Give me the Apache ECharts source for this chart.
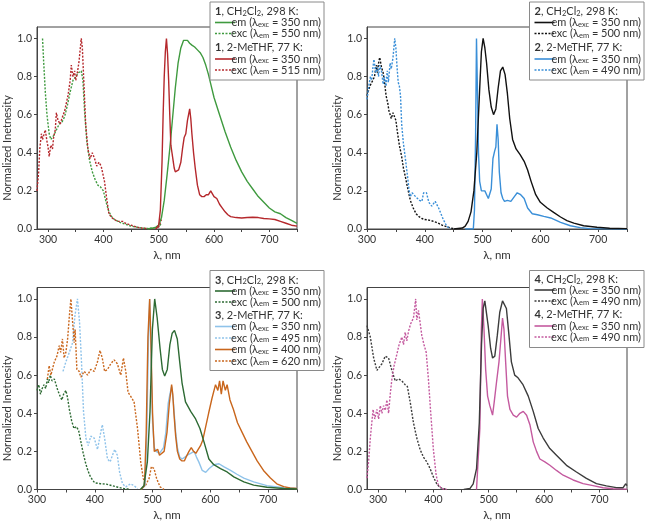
<!DOCTYPE html>
<html><head><meta charset="utf-8">
<script src="https://cdn.jsdelivr.net/npm/echarts@6/dist/echarts.min.js"></script>
<style>html,body{margin:0;padding:0;background:#fff}#c{width:645px;height:522px}</style>
</head><body><div id="c"></div>
<script>
// ---------- Panel 1 ----------
const p1EmRT = [[480,0],[490,0.005],[495,0.01],[500,0.02],[505,0.06],[510,0.15],[515,0.28],[520,0.42],[525,0.58],[530,0.74],[535,0.87],[540,0.95],[545,0.99],[548,1.0],[552,0.99],[556,0.975],[560,0.965],[565,0.955],[570,0.94],[575,0.925],[580,0.9],[585,0.86],[590,0.81],[595,0.75],[600,0.69],[610,0.6],[620,0.51],[630,0.43],[640,0.36],[650,0.3],[660,0.25],[670,0.21],[680,0.17],[690,0.14],[700,0.11],[710,0.09],[720,0.08],[730,0.06],[740,0.045],[750,0.03]];
const p1ExcRT = [[290,1.0],[292,0.88],[295,0.72],[298,0.6],[302,0.5],[305,0.47],[310,0.49],[315,0.52],[320,0.55],[325,0.56],[330,0.59],[335,0.65],[340,0.72],[345,0.78],[350,0.8],[355,0.82],[360,0.83],[363,0.78],[366,0.62],[370,0.46],[375,0.36],[380,0.3],[385,0.26],[390,0.23],[395,0.22],[400,0.2],[405,0.14],[410,0.09],[415,0.065],[420,0.05],[430,0.035],[440,0.025],[450,0.015],[460,0.01],[470,0.005],[480,0.003],[490,0.005],[500,0.012],[505,0.03]];
const p1EmLT = [[495,0],[500,0.02],[503,0.1],[506,0.35],[508,0.6],[510,0.8],[512,0.93],[514,1.0],[516,0.92],[518,0.78],[520,0.6],[522,0.44],[524,0.4],[526,0.36],[528,0.32],[530,0.3],[533,0.29],[536,0.31],[540,0.35],[543,0.42],[546,0.48],[549,0.5],[552,0.57],[554,0.6],[556,0.63],[558,0.58],[560,0.5],[563,0.4],[566,0.32],[570,0.23],[574,0.18],[578,0.17],[582,0.17],[586,0.18],[590,0.18],[594,0.2],[597,0.19],[600,0.17],[605,0.16],[610,0.13],[615,0.11],[620,0.09],[625,0.075],[630,0.065],[640,0.06],[650,0.058],[660,0.06],[670,0.062],[680,0.06],[690,0.055],[700,0.053],[710,0.05],[720,0.04],[730,0.03],[740,0.02],[750,0.015]];
const p1ExcLT = [[280,0.2],[283,0.3],[285,0.42],[288,0.5],[290,0.47],[292,0.49],[295,0.52],[298,0.46],[300,0.43],[302,0.38],[305,0.44],[308,0.42],[310,0.48],[313,0.52],[315,0.61],[318,0.57],[322,0.55],[325,0.58],[328,0.57],[330,0.62],[333,0.66],[336,0.7],[340,0.78],[342,0.86],[345,0.8],[348,0.83],[350,0.78],[353,0.82],[356,0.88],[360,1.0],[362,0.95],[365,0.75],[368,0.55],[372,0.42],[376,0.37],[380,0.4],[384,0.37],[388,0.33],[392,0.35],[396,0.33],[398,0.34],[402,0.25],[406,0.16],[410,0.08],[415,0.06],[420,0.05],[425,0.04],[430,0.04],[435,0.04],[440,0.03],[450,0.02],[460,0.01],[470,0.005],[480,0.002],[490,0.002],[500,0.01],[505,0.05]];
// ---------- Panel 2 ----------
const p2EmRT = [[450,0],[465,0.005],[470,0.015],[475,0.04],[480,0.09],[485,0.2],[490,0.4],[493,0.6],[496,0.8],[498,0.93],[501,1.0],[504,0.95],[507,0.87],[511,0.73],[515,0.64],[519,0.6],[523,0.63],[527,0.74],[531,0.83],[535,0.85],[539,0.81],[543,0.71],[547,0.58],[552,0.47],[558,0.42],[565,0.39],[572,0.355],[578,0.31],[584,0.25],[592,0.18],[600,0.14],[612,0.11],[623,0.087],[635,0.063],[646,0.044],[658,0.031],[675,0.017],[698,0.009],[720,0.004],[750,0.002]];
const p2ExcRT = [[300,0.7],[305,0.75],[310,0.78],[313,0.8],[316,0.86],[318,0.82],[320,0.87],[322,0.9],[325,0.85],[328,0.82],[330,0.78],[333,0.7],[336,0.66],[338,0.62],[340,0.6],[342,0.58],[345,0.61],[348,0.62],[350,0.57],[353,0.5],[356,0.44],[360,0.38],[363,0.32],[366,0.28],[370,0.22],[375,0.15],[380,0.11],[385,0.08],[390,0.065],[395,0.055],[400,0.05],[405,0.048],[410,0.045],[415,0.04],[420,0.035],[425,0.028],[430,0.02],[435,0.015],[440,0.01],[445,0.005],[450,0.002]];
const p2EmLT = [[470,0],[484,0],[486,0.1],[488,0.5],[489.5,1.0],[491,0.75],[493,0.4],[495,0.25],[498,0.2],[501,0.2],[504,0.2],[507,0.18],[510,0.16],[513,0.15],[515,0.21],[518,0.37],[521,0.41],[523,0.43],[525,0.55],[527,0.47],[529,0.3],[532,0.19],[535,0.16],[538,0.145],[543,0.15],[549,0.145],[555,0.17],[560,0.19],[566,0.18],[572,0.16],[578,0.11],[586,0.08],[595,0.075],[606,0.066],[618,0.058],[635,0.035],[652,0.017],[669,0.007],[686,0.002],[750,0]];
const p2ExcLT = [[300,0.68],[303,0.75],[306,0.8],[308,0.78],[310,0.84],[312,0.89],[315,0.82],[318,0.85],[320,0.8],[322,0.86],[325,0.83],[328,0.76],[330,0.8],[333,0.75],[335,0.83],[337,0.77],[340,0.87],[342,0.84],[345,0.9],[348,1.0],[350,0.95],[352,0.85],[354,0.77],[356,0.75],[358,0.7],[360,0.55],[363,0.45],[366,0.38],[370,0.28],[373,0.2],[375,0.17],[378,0.19],[381,0.2],[384,0.17],[387,0.16],[391,0.15],[395,0.145],[398,0.19],[403,0.19],[407,0.14],[412,0.12],[418,0.145],[424,0.11],[427,0.1],[432,0.05],[438,0.015],[444,0]];
// ---------- Panel 3 ----------
const p3EmRT = [[479,0],[485,0.02],[491,0.145],[495.6,0.41],[499.7,0.84],[503.7,1.0],[508,0.9],[513,0.74],[517,0.63],[521,0.595],[525.5,0.63],[530,0.76],[534,0.82],[538,0.835],[542.8,0.79],[547,0.67],[551,0.56],[557,0.46],[566,0.41],[574.5,0.37],[582,0.32],[589,0.25],[597.5,0.16],[606,0.13],[617.6,0.11],[629,0.092],[640.6,0.066],[658,0.04],[675,0.023],[698,0.012],[727,0.005],[750,0.003]];
const p3ExcRT = [[300,0.52],[303,0.55],[306,0.5],[309,0.53],[312,0.55],[315,0.53],[318,0.58],[320,0.56],[323,0.6],[326,0.57],[330,0.58],[333,0.55],[336,0.52],[340,0.49],[343,0.47],[346,0.5],[350,0.52],[353,0.48],[356,0.42],[360,0.36],[364,0.32],[368,0.33],[372,0.31],[376,0.25],[380,0.19],[384,0.14],[388,0.1],[392,0.07],[396,0.05],[400,0.035],[410,0.03],[420,0.028],[430,0.02],[440,0.012],[450,0.005],[460,0.002]];
const p3EmLT350 = [[480,0],[487,0.02],[490,0.3],[493,0.8],[495,1.0],[497,0.75],[500,0.35],[503,0.22],[506,0.2],[509,0.2],[512,0.19],[515,0.2],[519,0.22],[523,0.3],[527,0.45],[530,0.5],[533,0.54],[536,0.46],[540,0.3],[543,0.22],[547,0.17],[551,0.16],[556,0.17],[560,0.18],[566,0.19],[572,0.2],[576,0.17],[580,0.145],[586,0.1],[592,0.09],[598,0.11],[606,0.13],[615,0.135],[623,0.12],[635,0.1],[646,0.08],[658,0.06],[675,0.04],[698,0.02],[727,0.01],[750,0.005]];
const p3ExcLT495 = [[345,0.62],[350,0.67],[356,0.72],[361.6,0.77],[365.6,0.91],[370,1.0],[373.6,0.88],[377,0.67],[380.5,0.41],[384.6,0.27],[388.6,0.23],[393,0.28],[399,0.27],[404.7,0.21],[409,0.28],[413,0.34],[417,0.27],[422,0.16],[426.6,0.145],[430.6,0.18],[434.6,0.21],[439,0.18],[443,0.09],[448,0.03],[453.6,0.014],[462,0.03],[468,0.02],[474,0.005]];
const p3EmLT400 = [[480,0],[486,0.02],[489,0.3],[492,0.8],[495,1.0],[497,0.8],[500,0.4],[503,0.2],[506,0.19],[509,0.21],[512,0.18],[515,0.17],[520,0.2],[525,0.3],[529,0.45],[531,0.5],[533,0.55],[535,0.5],[537,0.4],[540,0.28],[543,0.2],[547,0.16],[551,0.15],[555,0.15],[558,0.17],[563,0.2],[567,0.22],[571,0.2],[575,0.19],[579,0.21],[583,0.23],[587,0.26],[592,0.33],[597,0.4],[603,0.48],[609,0.55],[613,0.52],[616,0.57],[619,0.5],[622,0.57],[626,0.52],[629,0.55],[634,0.47],[640,0.42],[647,0.35],[655,0.3],[663,0.25],[672,0.2],[681,0.15],[692,0.1],[704,0.06],[715,0.03],[727,0.015],[738,0.008],[750,0.005]];
const p3ExcLT620 = [[318,0.58],[321,0.65],[324,0.6],[330,0.67],[334.5,0.7],[338.5,0.755],[341,0.72],[344,0.79],[347,0.69],[350,0.72],[353,0.79],[356,0.91],[358.7,1.0],[361.6,0.88],[364.4,0.77],[366,0.84],[369,0.63],[373,0.62],[376,0.59],[381.7,0.62],[387.5,0.6],[393,0.63],[399,0.62],[404.7,0.67],[409,0.73],[413,0.69],[417,0.62],[422,0.63],[427.7,0.66],[433.5,0.68],[439,0.66],[445,0.6],[449.6,0.69],[453.6,0.62],[457.6,0.51],[462,0.49],[468,0.46],[474,0.32],[479.5,0.145],[484,0.058],[488,0.023],[494,0.058],[498,0.12],[502.5,0.11],[507,0.058],[513,0.014],[520,0]];
// ---------- Panel 4 ----------
const p4EmRT = [[455,0],[466,0.005],[472,0.03],[478,0.11],[483,0.35],[487,0.76],[490,0.95],[493,0.99],[496,0.98],[499,0.86],[503.5,0.74],[507,0.69],[511,0.7],[515.6,0.81],[520,0.93],[525,0.99],[528,1.0],[532,0.95],[536.6,0.81],[541,0.67],[547,0.6],[553,0.586],[562,0.55],[571.5,0.49],[580.5,0.41],[589.5,0.32],[598.5,0.27],[610.5,0.215],[622.5,0.18],[640.6,0.127],[658.6,0.092],[676.6,0.058],[694.7,0.031],[712.7,0.019],[730.7,0.01],[742.7,0.009],[747.5,0.03],[750,0.02]];
const p4ExcRT = [[280,0.86],[286,0.8],[292,0.69],[298,0.625],[301,0.62],[307,0.66],[313,0.7],[319,0.69],[325,0.625],[331,0.57],[337,0.58],[343,0.57],[349,0.55],[353,0.54],[358,0.46],[364,0.35],[370,0.27],[376,0.21],[382,0.17],[388,0.145],[394,0.11],[400,0.066],[406,0.03],[412,0.01],[418,0.005],[424,0.002]];
const p4EmLT = [[478,0],[481,0.01],[484,0.32],[486.7,0.84],[488.5,1.0],[491.5,0.84],[494.5,0.63],[498,0.49],[502,0.44],[507,0.39],[510,0.46],[514,0.56],[518.6,0.67],[522,0.79],[525,0.9],[527.6,0.84],[530.6,0.67],[534,0.49],[538.4,0.42],[544.4,0.39],[550.4,0.38],[556.4,0.4],[562.5,0.41],[568.5,0.39],[574.5,0.34],[580.5,0.25],[586.5,0.2],[592.5,0.16],[601.5,0.145],[610.5,0.127],[622.5,0.1],[634.6,0.075],[652.6,0.05],[670.6,0.031],[688.7,0.02],[706.7,0.009],[724.7,0.004],[750,0.002]];
const p4ExcLT = [[280,0.06],[283,0.15],[286,0.27],[291,0.42],[294,0.37],[298,0.42],[301,0.37],[304,0.44],[307,0.4],[310,0.44],[313,0.415],[316,0.47],[319,0.4],[322,0.5],[325,0.58],[329,0.65],[334,0.71],[338,0.76],[343,0.8],[346,0.76],[349,0.825],[352,0.78],[355,0.83],[359,0.87],[364,0.9],[368,1.0],[370,0.89],[373,0.94],[376,0.94],[379,0.81],[383,0.76],[387,0.72],[391,0.58],[395,0.41],[400,0.21],[405,0.075],[409,0.023],[415,0.005],[424,0]];

// ---------- axes / ticks ----------
const xLabelVals = [300,400,500,600,700];
const xTickVals = [300,350,400,450,500,550,600,650,700,750];
const yLabelVals = [0,0.2,0.4,0.6,0.8,1.0];
const xRanges = [[280,750],[300,750],[300,750],[280,750]];
const yTitle = 'Normalized Inetnesity';
const xTitle = 'λ, nm';

const FONT = 'Lato, "Noto Sans", sans-serif';
const AX = '#444';
const TXT = '#333';

const grids = [
  {left:37, top:27, width:260, height:202},
  {left:367, top:27, width:260, height:202},
  {left:37, top:287.5, width:260, height:202},
  {left:367, top:287.5, width:260, height:202}
];

const C = {
  g1:'#3f9a3f', r1:'#b5282c',
  k2:'#111111', b2:'#3a8fd8',
  g3:'#2d6a33', lb3:'#8fc3ea', o3:'#c9661c',
  k4:'#3c3c3c', m4:'#c45a9f'
};
const DOT = [2,1.5];

function ser(i, data, color, dotted, z) {
  return {
    type:'line', xAxisIndex:i, yAxisIndex:i, data:data, showSymbol:false, symbol:'none',
    animation:false, z: z || 2,
    lineStyle:{color:color, width:1.4, type: dotted ? DOT : 'solid'}
  };
}

const series = [
  ser(0,p1ExcRT,C.g1,true), ser(0,p1ExcLT,C.r1,true), ser(0,p1EmRT,C.g1,false), ser(0,p1EmLT,C.r1,false),
  ser(1,p2ExcRT,C.k2,true), ser(1,p2ExcLT,C.b2,true), ser(1,p2EmLT,C.b2,false), ser(1,p2EmRT,C.k2,false),
  ser(2,p3ExcRT,C.g3,true), ser(2,p3ExcLT495,C.lb3,true), ser(2,p3ExcLT620,C.o3,true),
  ser(2,p3EmLT350,C.lb3,false), ser(2,p3EmLT400,C.o3,false), ser(2,p3EmRT,C.g3,false),
  ser(3,p4ExcRT,C.k4,true), ser(3,p4ExcLT,C.m4,true), ser(3,p4EmLT,C.m4,false), ser(3,p4EmRT,C.k4,false)
];

const xAxes = xRanges.map((r,i)=>({
  type:'value', gridIndex:i, min:r[0], max:r[1],
  axisLine:{show:true, onZero:false, lineStyle:{color:AX, width:1}},
  axisTick:{show:true, inside:false, length:3, customValues:xTickVals, lineStyle:{color:AX}},
  axisLabel:{customValues:xLabelVals, fontSize:10.5, color:TXT, margin:5, fontFamily:FONT},
  splitLine:{show:false}
}));
const yAxes = grids.map((g,i)=>({
  type:'value', gridIndex:i, min:0, max:1.06,
  axisLine:{show:true, lineStyle:{color:AX, width:1}},
  axisTick:{show:true, inside:false, length:3, customValues:yLabelVals, lineStyle:{color:AX}},
  axisLabel:{customValues:yLabelVals, fontSize:10.5, color:TXT, margin:5, fontFamily:FONT, formatter:v=>v.toFixed(1)},
  splitLine:{show:false}
}));

// ---------- legends (graphic) ----------
const LF = 11;
const rich = {
  b:{fontWeight:'bold', fontSize:LF, fontFamily:FONT, color:TXT},
  s:{fontSize:7.5, lineHeight:6, verticalAlign:'bottom', fontFamily:FONT, color:TXT}
};
const legendDefs = [
  {bx:210, by:2, bw:114, bh:78, rows:[
    {h:'{b|1}, CH{s|2}Cl{s|2}, 298 K:', y:9.5},
    {t:'em (λ{s|exc} = 350 nm)', c:C.g1, d:false, y:20.5},
    {t:'exc (λ{s|em} = 550 nm)', c:C.g1, d:true, y:31.5},
    {h:'{b|1}, 2-MeTHF, 77 K:', y:45.5},
    {t:'em (λ{s|exc} = 350 nm)', c:C.r1, d:false, y:57},
    {t:'exc (λ{s|em} = 515 nm)', c:C.r1, d:true, y:68}
  ]},
  {bx:529.5, by:2, bw:114.5, bh:78, rows:[
    {h:'{b|2}, CH{s|2}Cl{s|2}, 298 K:', y:9.5},
    {t:'em (λ{s|exc} = 350 nm)', c:C.k2, d:false, y:20.5},
    {t:'exc (λ{s|em} = 500 nm)', c:C.k2, d:true, y:31.5},
    {h:'{b|2}, 2-MeTHF, 77 K:', y:45.5},
    {t:'em (λ{s|exc} = 350 nm)', c:C.b2, d:false, y:57},
    {t:'exc (λ{s|em} = 490 nm)', c:C.b2, d:true, y:68}
  ]},
  {bx:210, by:270.5, bw:114, bh:100, rows:[
    {h:'{b|3}, CH{s|2}Cl{s|2}, 298 K:', y:9.5},
    {t:'em (λ{s|exc} = 350 nm)', c:C.g3, d:false, y:20.5},
    {t:'exc (λ{s|em} = 500 nm)', c:C.g3, d:true, y:31.5},
    {h:'{b|3}, 2-MeTHF, 77 K:', y:45},
    {t:'em (λ{s|exc} = 350 nm)', c:C.lb3, d:false, y:56},
    {t:'exc (λ{s|em} = 495 nm)', c:C.lb3, d:true, y:67.5},
    {t:'em (λ{s|exc} = 400 nm)', c:C.o3, d:false, y:79},
    {t:'exc (λ{s|em} = 620 nm)', c:C.o3, d:true, y:90.5}
  ]},
  {bx:529.5, by:270.5, bw:114.5, bh:77, rows:[
    {h:'{b|4}, CH{s|2}Cl{s|2}, 298 K:', y:9},
    {t:'em (λ{s|exc} = 350 nm)', c:C.k4, d:false, y:19.5},
    {t:'exc (λ{s|em} = 490 nm)', c:C.k4, d:true, y:30.5},
    {h:'{b|4}, 2-MeTHF, 77 K:', y:44},
    {t:'em (λ{s|exc} = 350 nm)', c:C.m4, d:false, y:55.5},
    {t:'exc (λ{s|em} = 490 nm)', c:C.m4, d:true, y:66.5}
  ]}
];

const graphic = [];
legendDefs.forEach(L=>{
  graphic.push({type:'rect', z:100, shape:{x:L.bx, y:L.by, width:L.bw, height:L.bh},
    style:{fill:'#fff', stroke:'#8a8a8a', lineWidth:1}});
  L.rows.forEach(r=>{
    if (r.h) {
      graphic.push({type:'text', z:101, x:L.bx+5, y:L.by+r.y,
        style:{text:r.h, rich:rich, font:LF+'px '+FONT, fill:TXT, lineHeight:12, textAlign:'left', textVerticalAlign:'middle'}});
    } else {
      graphic.push({type:'line', z:101, shape:{x1:L.bx+5, y1:L.by+r.y, x2:L.bx+25, y2:L.by+r.y},
        style:{stroke:r.c, lineWidth:1.6, lineDash: r.d ? [2,1.5] : null}});
      graphic.push({type:'text', z:101, x:L.bx+L.bw-3, y:L.by+r.y,
        style:{text:r.t, rich:rich, font:LF+'px '+FONT, fill:TXT, lineHeight:12, textAlign:'right', textVerticalAlign:'middle'}});
    }
  });
});
// axis titles
grids.forEach(g=>{
  graphic.push({type:'text', x:g.left-30, y:g.top+121, rotation:Math.PI/2,
    style:{text:yTitle, font:'11px '+FONT, fill:TXT, textAlign:'center', textVerticalAlign:'middle'}});
  graphic.push({type:'text', x:g.left+g.width/2, y:g.top+g.height+26,
    style:{text:xTitle, font:'11.5px '+FONT, fill:TXT, textAlign:'center', textVerticalAlign:'middle'}});
});

const chart = echarts.init(document.getElementById('c'), null, {renderer:'canvas'});
chart.setOption({
  animation:false,
  backgroundColor:'#fff',
  grid: grids.map(g=>Object.assign({show:true, borderColor:AX, borderWidth:1, backgroundColor:'transparent'}, g)),
  xAxis:xAxes, yAxis:yAxes, series:series, graphic:graphic
});
</script></body></html>
